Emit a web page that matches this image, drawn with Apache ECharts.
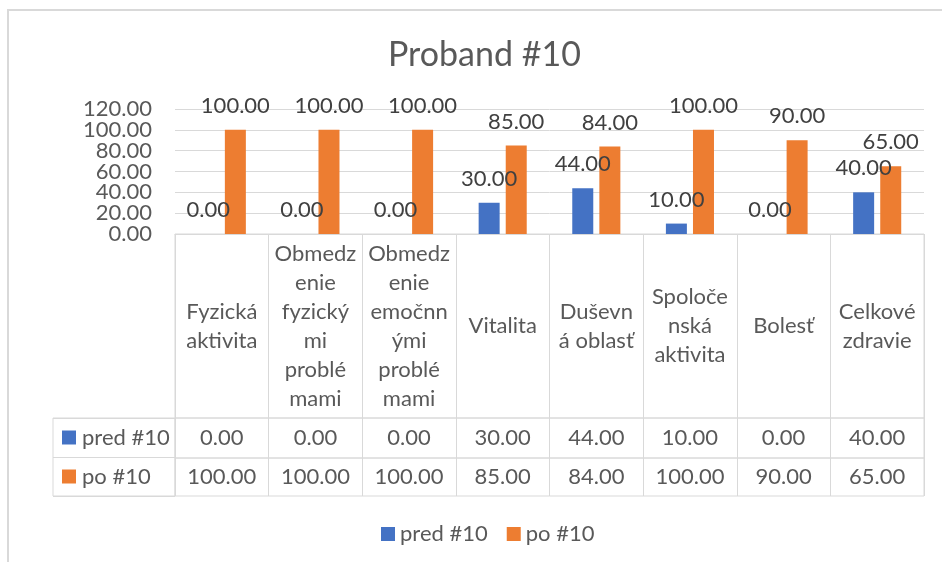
<!DOCTYPE html>
<html>
<head>
<meta charset="utf-8">
<script src="https://cdn.jsdelivr.net/npm/echarts@6/dist/echarts.min.js"></script>
<style>
  html, body { margin: 0; padding: 0; background: #fff; }
  #chart { width: 942px; height: 562px; }
</style>
</head>
<body>
<div id="chart"></div>
<script>
const categories = [
  'Fyzická\naktivita',
  'Obmedz\nenie\nfyzický\nmi\nproblé\nmami',
  'Obmedz\nenie\nemočnn\nými\nproblé\nmami',
  'Vitalita',
  'Duševn\ná oblasť',
  'Spoloče\nnská\naktivita',
  'Bolesť',
  'Celkové\nzdravie'
]
const seriesNames = ['pred #10', 'po #10']
const predValues = [0, 0, 0, 30, 44, 10, 0, 40]
const poValues = [100, 100, 100, 85, 84, 100, 90, 65]
const yTicks = [0, 20, 40, 60, 80, 100, 120]

const FONT = 'Lato'
const TEXT = '#595959'
const LINE = '#d9d9d9'
const colors = ['#4472C4', '#ED7D31']
const fmt = v => Number(v).toFixed(2)

// one row of the data table = a grid whose x axis labels are the cell texts
const tableAxis = (gridIndex, data, h) => ({
  type: 'category',
  gridIndex: gridIndex,
  data: data,
  boundaryGap: true,
  axisLine: { show: false },
  axisTick: { show: false },
  splitLine: { show: true, interval: 0, lineStyle: { color: LINE, width: 1 } },
  axisLabel: {
    interval: 0,
    margin: -h / 2,
    verticalAlign: 'middle',
    fontFamily: FONT,
    fontSize: 22,
    lineHeight: 29,
    color: TEXT
  }
})
const hiddenY = gridIndex => ({ type: 'value', gridIndex: gridIndex, show: false, min: 0, max: 1 })
const tableGrid = (left, top, width, height) => ({
  left: left, top: top, width: width, height: height,
  outerBoundsMode: 'none',
  show: true, borderColor: LINE, borderWidth: 1, backgroundColor: 'transparent'
})

const chart = echarts.init(document.getElementById('chart'))

const option = {
  animation: false,
  color: colors,
  title: {
    text: 'Proband #10',
    left: 383,
    top: 33,
    textStyle: { fontFamily: FONT, fontSize: 34, fontWeight: 'normal', color: TEXT }
  },
  legend: {
    data: seriesNames,
    left: 376,
    top: 518,
    icon: 'rect',
    itemWidth: 14,
    itemHeight: 14,
    itemGap: 19,
    textStyle: { fontFamily: FONT, fontSize: 22, color: TEXT }
  },
  graphic: [{
    type: 'rect',
    shape: { x: 8, y: 10, width: 980, height: 600 },
    style: { fill: 'none', stroke: LINE, lineWidth: 2 },
    silent: true
  }],
  grid: [
    { left: 175, top: 109, width: 749, height: 125, outerBoundsMode: 'none' },
    tableGrid(175, 234, 749, 184),
    tableGrid(175, 418, 749, 40),
    tableGrid(175, 458, 749, 38),
    tableGrid(53, 418, 122, 78)
  ],
  xAxis: [
    {
      type: 'category',
      gridIndex: 0,
      data: categories,
      axisLine: { lineStyle: { color: LINE } },
      axisTick: { show: false },
      axisLabel: { show: false }
    },
    tableAxis(1, categories, 184),
    tableAxis(2, predValues.map(fmt), 40),
    tableAxis(3, poValues.map(fmt), 38),
    { type: 'value', gridIndex: 4, show: false }
  ],
  yAxis: [
    {
      type: 'value',
      gridIndex: 0,
      position: 'left',
      min: yTicks[0],
      max: yTicks[yTicks.length - 1],
      interval: yTicks[1] - yTicks[0],
      axisLine: { show: false },
      axisTick: { show: false },
      axisLabel: { show: false },
      splitLine: { lineStyle: { color: LINE, width: 1 } }
    },
    hiddenY(1),
    hiddenY(2),
    hiddenY(3),
    {
      type: 'category',
      gridIndex: 4,
      data: seriesNames,
      inverse: true,
      axisLine: { show: false },
      axisTick: { show: false },
      splitLine: { show: true, interval: 0, lineStyle: { color: LINE, width: 1 } },
      axisLabel: {
        interval: 0,
        margin: -9,
        align: 'left',
        formatter: (v, i) => '{s' + i + '|}{t|' + v + '}',
        rich: {
          s0: { width: 14, height: 14, backgroundColor: colors[0] },
          s1: { width: 14, height: 14, backgroundColor: colors[1] },
          t: { fontFamily: FONT, fontSize: 22, color: TEXT, padding: [0, 0, 0, 6] }
        }
      }
    },
    // tick labels of the value axis, all shown even though they touch
    {
      type: 'category',
      gridIndex: 0,
      position: 'left',
      offset: 0,
      data: yTicks.map(fmt),
      boundaryGap: false,
      axisLine: { show: false },
      axisTick: { show: false },
      splitLine: { show: false },
      axisLabel: {
        interval: 0,
        margin: 23,
        fontFamily: FONT,
        fontSize: 22,
        color: TEXT
      }
    }
  ],
  series: [
    { name: seriesNames[0], data: predValues },
    { name: seriesNames[1], data: poValues }
  ].map(s => ({
    name: s.name,
    type: 'bar',
    xAxisIndex: 0,
    yAxisIndex: 0,
    data: s.data,
    barWidth: 21,
    barGap: '29%',
    label: {
      show: true,
      position: 'top',
      distance: 13,
      formatter: p => fmt(p.value),
      fontFamily: FONT,
      fontSize: 22,
      color: '#404040'
    }
  }))
}

chart.setOption(option)
</script>
</body>
</html>
